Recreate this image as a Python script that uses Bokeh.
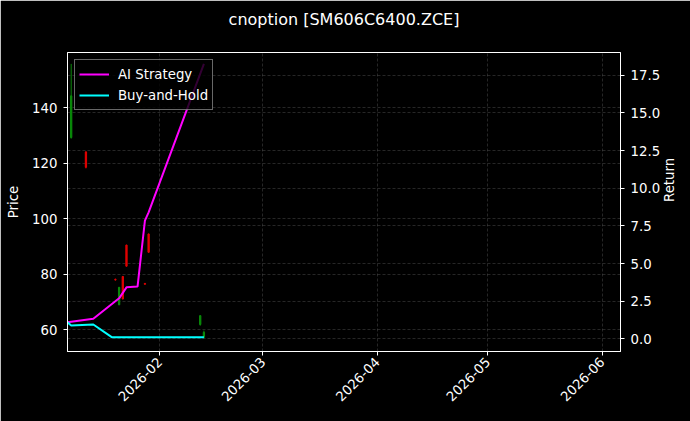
import math
import pandas as pd
from bokeh.plotting import figure
from bokeh.models import (Range1d, LinearAxis, FixedTicker, DatetimeTickFormatter,
                          PrintfTickFormatter, Grid, Legend, LegendItem, ColumnDataSource, Title)
from bokeh.embed import file_html
from bokeh.resources import INLINE

# ---- data ----
candle_dates = ["2026-01-08", "2026-01-12", "2026-01-20", "2026-01-21", "2026-01-22",
                "2026-01-23", "2026-01-28", "2026-01-29", "2026-02-12", "2026-02-13"]
candle_open = [129.2, 124.0, 78.2, 69.0, 79.2, 90.5, 76.7, 94.5, 61.9, 57.3]
candle_high = [155.7, 124.3, 78.4, 75.3, 79.3, 90.6, 76.8, 94.6, 65.2, 59.7]
candle_low = [128.8, 118.1, 77.8, 68.9, 71.0, 82.8, 76.3, 87.8, 61.5, 57.0]
candle_close = [144.2, 118.5, 77.9, 75.3, 71.1, 82.9, 76.4, 87.9, 65.1, 59.1]

ai_dates = ["2026-01-07", "2026-01-14", "2026-01-21", "2026-01-23", "2026-01-26",
            "2026-01-28", "2026-01-29", "2026-02-13"]
ai_return = [1.10, 1.33, 2.69, 3.42, 3.47, 7.85, 8.40, 18.25]

bh_dates = ["2026-01-07", "2026-01-08", "2026-01-14", "2026-01-19", "2026-02-13"]
bh_return = [1.10, 0.88, 0.95, 0.11, 0.11]

x_tick_dates = ["2026-02-01", "2026-03-01", "2026-04-01", "2026-05-01", "2026-06-01"]
price_ticks = [60, 80, 100, 120, 140]
return_ticks = [0.0, 2.5, 5.0, 7.5, 10.0, 12.5, 15.0, 17.5]

x_start, x_end = "2026-01-07", "2026-06-06"
price_range = (52.2, 159.8)
return_range = (-0.84, 19.01)

title_text = "cnoption [SM606C6400.ZCE]"

# ---- build ----
FONT = "DejaVu Sans"
FS = "13.3px"
UP, DOWN = "#0a8a0a", "#e00000"

def ms(d):
    return pd.Timestamp(d).value // 10**6

cdates = pd.to_datetime(candle_dates)
colors = [UP if c >= o else DOWN for o, c in zip(candle_open, candle_close)]
csrc = ColumnDataSource(dict(
    x=cdates, high=candle_high, low=candle_low,
    top=[max(o, c) for o, c in zip(candle_open, candle_close)],
    bottom=[min(o, c) for o, c in zip(candle_open, candle_close)],
    color=colors))

p = figure(width=690, height=421, x_axis_type="datetime",
           x_range=Range1d(pd.Timestamp(x_start), pd.Timestamp(x_end)),
           y_range=Range1d(*price_range),
           output_backend="svg", toolbar_location=None,
           background_fill_color="black", border_fill_color="black",
           min_border_left=67, min_border_right=70, min_border_top=52, min_border_bottom=70,
           outline_line_color="white", outline_line_width=1)

p.extra_y_ranges = {"ret": Range1d(*return_range)}

# spacer between frame and title, then the title itself (further from the frame)
p.add_layout(Title(text=" ", text_font_size="1px", standoff=16, text_color="black"), "above")
p.add_layout(Title(text=title_text, text_color="white", text_font=FONT, text_font_size="16px",
                   text_font_style="normal", align="center", standoff=10), "above")

# candles
p.segment(x0="x", y0="low", x1="x", y1="high", color="color", line_width=1, source=csrc)
p.vbar(x="x", width=0.35 * 86400000, top="top", bottom="bottom",
       fill_color="color", line_color="color", line_width=1, source=csrc)

# return lines
r_ai = p.line(pd.to_datetime(ai_dates), ai_return, color="#ff00ff", line_width=2,
              y_range_name="ret")
r_bh = p.line(pd.to_datetime(bh_dates), bh_return, color="#00ffff", line_width=2,
              y_range_name="ret")

def style_axis(ax):
    ax.axis_line_color = "white"
    ax.major_tick_line_color = "white"
    ax.minor_tick_line_color = None
    ax.major_tick_out = 4
    ax.major_tick_in = 0
    ax.major_label_text_color = "white"
    ax.major_label_text_font = FONT
    ax.major_label_text_font_size = FS
    ax.axis_label_text_color = "white"
    ax.axis_label_text_font = FONT
    ax.axis_label_text_font_size = FS
    ax.axis_label_text_font_style = "normal"

# x axis
xaxis = p.xaxis[0]
xaxis.ticker = FixedTicker(ticks=[ms(d) for d in x_tick_dates])
xaxis.formatter = DatetimeTickFormatter(milliseconds="%Y-%m", seconds="%Y-%m", minsec="%Y-%m",
                                        minutes="%Y-%m", hourmin="%Y-%m", hours="%Y-%m",
                                        days="%Y-%m", months="%Y-%m", years="%Y-%m")
xaxis.major_label_orientation = math.pi / 4
style_axis(xaxis)
xaxis.major_label_standoff = 4

# left axis
yaxis = p.yaxis[0]
yaxis.ticker = FixedTicker(ticks=price_ticks)
yaxis.axis_label = "Price"
style_axis(yaxis)
yaxis.major_label_standoff = 6
yaxis.axis_label_standoff = 8

# right axis
raxis = LinearAxis(y_range_name="ret", axis_label="Return",
                   ticker=FixedTicker(ticks=return_ticks),
                   formatter=PrintfTickFormatter(format="%.1f"))
style_axis(raxis)
raxis.major_label_standoff = 6
raxis.axis_label_standoff = 6
raxis.axis_label_orientation = math.pi / 2
p.add_layout(raxis, "right")

# grids
for g in (p.xgrid[0], p.ygrid[0]):
    g.grid_line_color = "white"
    g.grid_line_alpha = 0.3
    g.grid_line_width = 0.5
    g.grid_line_dash = "3 2"
p.xgrid[0].ticker = xaxis.ticker
p.ygrid[0].ticker = yaxis.ticker
rgrid = Grid(dimension=1, ticker=raxis.ticker, y_range_name="ret",
             grid_line_color="white", grid_line_alpha=0.3, grid_line_width=0.5,
             grid_line_dash="3 2")
p.add_layout(rgrid)

# legend
legend = Legend(items=[LegendItem(label="AI Strategy", renderers=[r_ai]),
                       LegendItem(label="Buy-and-Hold", renderers=[r_bh])],
                location="top_left", margin=7, padding=4, spacing=1,
                glyph_width=30, glyph_height=20, label_height=20, label_standoff=9,
                background_fill_color="black", background_fill_alpha=0.8,
                border_line_color="#d0d0d0", border_line_width=1,
                label_text_color="white", label_text_font=FONT, label_text_font_size=FS)
p.add_layout(legend)

open("out.html", "w").write(file_html(p, INLINE))
